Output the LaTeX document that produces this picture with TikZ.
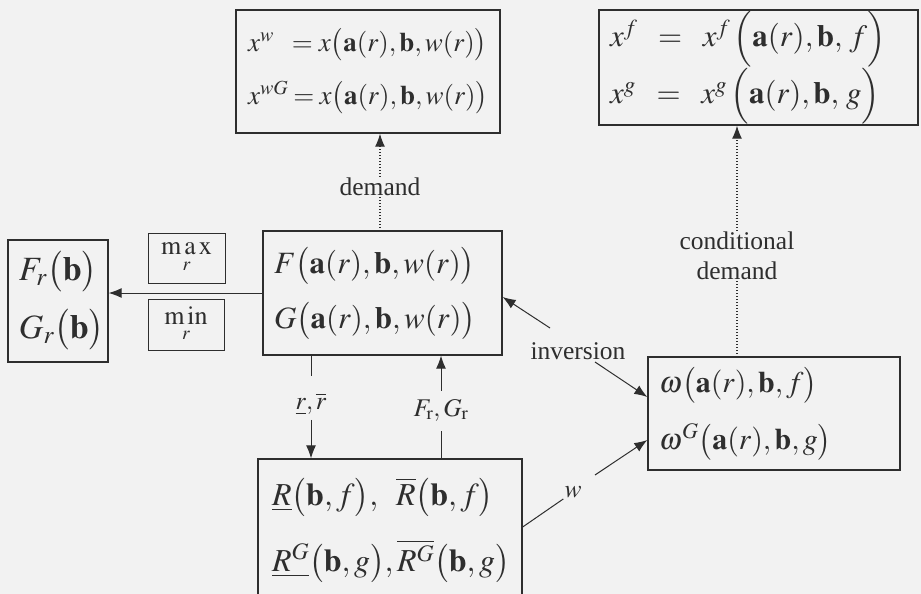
\documentclass[tikz,border=0pt]{standalone}
\usepackage{mathptmx}
\usepackage[no-math]{fontspec}
\setmainfont{Liberation Serif}
\usetikzlibrary{arrows.meta}
\definecolor{bgcol}{HTML}{F2F2F2}
\definecolor{inkcol}{HTML}{2E2E2E}
\tikzset{
  eqbox/.style={draw=inkcol, line width=1.3pt, align=left, inner xsep=11pt,
    inner ysep=0pt},
  opbox/.style={draw=inkcol, line width=1pt, inner sep=0pt,
    font=\fontsize{26}{28}\selectfont},
  lbl/.style={inner sep=1pt, align=center, text=inkcol,
    font=\fontsize{25.5}{30}\selectfont},
  link/.style={draw=inkcol, line width=1pt},
  tip/.style={link, -{Latex[length=13pt,width=10pt]}},
  dots/.style={link, dotted, line width=1.2pt}
}
\begin{document}
\begin{tikzpicture}[x=1pt, y=-1pt, text=inkcol]
  \fill[bgcol] (0,0) rectangle (921,594);
  \useasboundingbox (0,0) rectangle (921,594);

  % boxes
  \node[eqbox, inner xsep=12pt, text width=240pt, minimum height=123pt,
    font=\fontsize{27}{53}\selectfont] (xw) at (368,71.5)
    {$x^{w}\;\;=x\bigl(\mathbf{a}(r),\mathbf{b},w(r)\bigr)$\\
     $x^{wG}=x\bigl(\mathbf{a}(r),\mathbf{b},w(r)\bigr)$};
  \node[eqbox, text width=297pt, minimum height=115pt,
    font=\fontsize{31}{48}\selectfont] (xf) at (758.5,67.5)
    {$x^{f}\;\;=\;\;x^{f}\,\Bigl(\mathbf{a}(r),\mathbf{b},\,f\Bigr)$\\
     $x^{g}\;\;=\;\;x^{g}\,\Bigl(\mathbf{a}(r),\mathbf{b},\,g\Bigr)$};
  \node[eqbox, text width=78pt, minimum height=122pt,
    font=\fontsize{34}{58}\selectfont] (Fr) at (58,301)
    {$F_{r}\bigl(\mathbf{b}\bigr)$\\ $G_{r}\bigl(\mathbf{b}\bigr)$};
  \node[opbox, minimum width=77pt, minimum height=50pt] (max) at (186.5,258)
    {$\mathop{\mathrm{m\,a\,x}}\limits_{r}$};
  \node[opbox, minimum width=76pt, minimum height=51pt] (min) at (186,324.5)
    {$\mathop{\mathrm{m\,in}}\limits_{r}$};
  \node[eqbox, text width=217pt, minimum height=124pt,
    font=\fontsize{31}{55}\selectfont] (FG) at (382.5,293)
    {$F\bigl(\mathbf{a}(r),\mathbf{b},w(r)\bigr)$\\
     $G\bigl(\mathbf{a}(r),\mathbf{b},w(r)\bigr)$};
  \node[eqbox, text width=230pt, minimum height=113pt,
    font=\fontsize{30}{57}\selectfont] (om) at (774,413.5)
    {$\omega\bigl(\mathbf{a}(r),\mathbf{b},f\bigr)$\\
     $\omega^{G}\bigl(\mathbf{a}(r),\mathbf{b},g\bigr)$};
  \node[eqbox, inner xsep=14pt, text width=236pt, minimum height=142pt,
    font=\fontsize{32}{66}\selectfont] (R) at (390,530)
    {$\underline{R}\bigl(\mathbf{b},f\bigr),\;\;\overline{R}\bigl(\mathbf{b},f\bigr)$\\
     $\underline{R^{G}}\bigl(\mathbf{b},g\bigr),\overline{R^{G}}\bigl(\mathbf{b},g\bigr)$};

  % labels
  \node[lbl] (dem) at (380,187) {demand};
  \node[lbl] (cdem) at (737,256) {conditional\\demand};
  \node[lbl] (inv) at (578,351) {inversion};
  \node[lbl] (rr) at (311,404) {$\underline{r},\overline{r}$};
  \node[lbl] (FGr) at (441,410) {$F_{\mathrm{r}},G_{\mathrm{r}}$};
  \node[lbl] (w) at (573,492) {$w$};
  \coordinate (invA) at (550,328);
  \coordinate (invB) at (595,362);
  \coordinate (wA) at (595,475);

  % connectors
  \draw[tip] (FG.west) -- (Fr.east |- FG.west);
  \draw[dots] (dem.south) -- (dem.south |- FG.north);
  \draw[dots, -{Latex[length=13pt,width=10pt]}] (dem.north) -- (dem.north |- xw.south);
  \draw[dots] (cdem.south) -- (cdem.south |- om.north);
  \draw[dots, -{Latex[length=13pt,width=10pt]}] (cdem.north) -- (cdem.north |- xf.south);
  \draw[tip] (invA) -- (FG.east |- 0,297);
  \draw[tip] (invB) -- (om.west |- 0,397);
  \draw[link] (rr.north |- FG.south) -- ++(0,20);
  \draw[tip] (rr.south) ++(0,4) -- (rr.south |- R.north);
  \draw[link] (FGr.south |- R.north) -- ++(0,-27);
  \draw[tip] (FGr.north) ++(0,-7) -- (FGr.north |- FG.south);
  \draw[link] (R.east |- 0,527) -- (w.south west);
  \draw[tip] (wA) -- (om.west |- 0,440);
\end{tikzpicture}
\end{document}
